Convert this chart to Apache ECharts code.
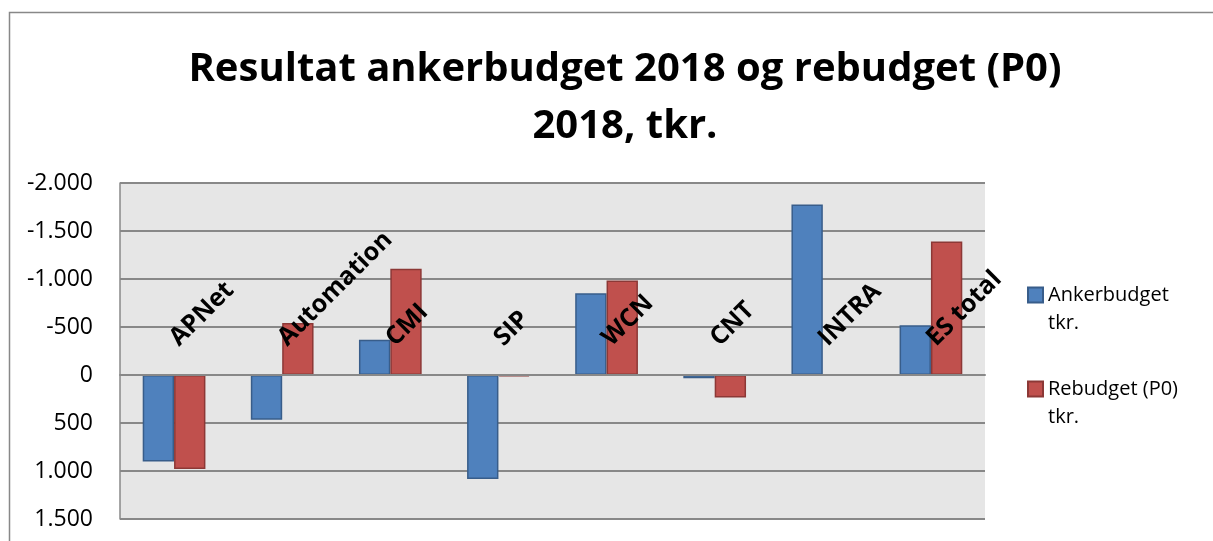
<!DOCTYPE html>
<html>
<head>
<meta charset="utf-8">
<script src="https://cdn.jsdelivr.net/npm/echarts@6/dist/echarts.min.js"></script>
<style>
  html, body { margin: 0; padding: 0; background: #fff; }
  #chart { width: 1213px; height: 541px; }
</style>
</head>
<body>
<div id="chart"></div>
<script>
// kategorier og værdier (tkr.) - negative = overskud, aksen er vendt om
var categories = ['APNet', 'Automation', 'CMI', 'SIP', 'WCN', 'CNT', 'INTRA', 'ES total'];
var ankerbudget = [900, 465, -367, 1083, -852, 35, -1775, -517];
var rebudget = [978, -542, -1108, 15, -985, 234, 5, -1391];
var seriesNames = ['Ankerbudget\ntkr.', 'Rebudget (P0)\ntkr.'];
var yTicks = { min: -2000, max: 1500, step: 500 };

function fmt(v) {
  var s = Math.abs(v).toString().replace(/\B(?=(\d{3})+(?!\d))/g, '.');
  return (v < 0 ? '-' : '') + s;
}

var chart = echarts.init(document.getElementById('chart'));
var font = '"Open Sans", "Noto Sans", sans-serif';

var option = {
  animation: false,
  backgroundColor: '#fff',
  textStyle: { fontFamily: font },
  graphic: [{
    // ramme om hele diagrammet
    type: 'rect',
    shape: { x: 9.5, y: 12.5, width: 1300, height: 600 },
    style: { fill: 'none', stroke: '#888', lineWidth: 1.5 },
    silent: true
  }],
  title: {
    text: 'Resultat ankerbudget 2018 og rebudget (P0)\n2018, tkr.',
    left: 620,
    textAlign: 'center',
    top: 36,
    textStyle: {
      fontFamily: font,
      fontSize: 40,
      fontWeight: 'bold',
      color: '#000',
      lineHeight: 57
    }
  },
  legend: {
    orient: 'vertical',
    left: 1027,
    top: 253,
    padding: 0,
    icon: 'rect',
    itemWidth: 15,
    itemHeight: 15,
    itemGap: 10,
    data: seriesNames,
    // tom linje foran, så første tekstlinje flugter med ikonet
    formatter: function (name) { return ' \n' + name; },
    textStyle: {
      fontFamily: font,
      fontSize: 20,
      color: '#000',
      lineHeight: 28
    }
  },
  grid: { left: 120, right: 228, top: 183, bottom: 22, containLabel: false,
    show: true, backgroundColor: '#e6e6e6', borderWidth: 0 },
  xAxis: {
    type: 'category',
    data: categories,
    z: 5,
    axisLine: { onZero: true, lineStyle: { color: '#888', width: 2 } },
    axisTick: { show: false },
    axisLabel: {
      interval: 0,
      rotate: 45,
      align: 'left',
      verticalAlign: 'middle',
      margin: -177,
      fontFamily: font,
      fontSize: 25,
      fontWeight: 'bold',
      color: '#000'
    },
    splitLine: { show: false }
  },
  yAxis: {
    type: 'value',
    inverse: true,
    min: yTicks.min,
    max: yTicks.max,
    interval: yTicks.step,
    axisLine: { show: true, lineStyle: { color: '#888', width: 1.5 } },
    axisTick: { show: false },
    axisLabel: {
      margin: 27,
      fontFamily: font,
      fontSize: 23,
      color: '#000',
      formatter: fmt
    },
    splitLine: { lineStyle: { color: '#888', width: 2 } }
  },
  series: [{
    name: seriesNames[0],
    type: 'bar',
    data: ankerbudget,
    barGap: '0%',
    barCategoryGap: '42%',
    itemStyle: { color: '#4f81bd', borderColor: '#385d8a', borderWidth: 1.5 }
  }, {
    name: seriesNames[1],
    type: 'bar',
    data: rebudget,
    itemStyle: { color: '#c0504d', borderColor: '#8c3836', borderWidth: 1.5 }
  }]
};

chart.setOption(option);
</script>
</body>
</html>
